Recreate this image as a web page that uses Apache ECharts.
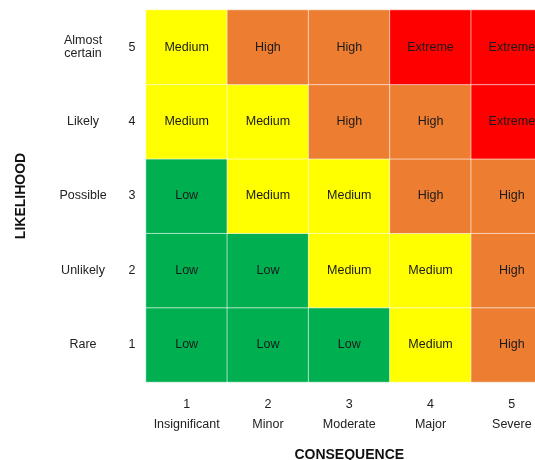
<!DOCTYPE html>
<html><head><meta charset="utf-8">
<script src="https://cdn.jsdelivr.net/npm/echarts@6/dist/echarts.min.js"></script>
<style>html,body{margin:0;padding:0;background:#fff}#c{width:535px;height:460px}</style>
</head><body><div id="c"></div>
<script>
const consequenceNums = ['1','2','3','4','5'];
const consequenceNames = ['Insignificant','Minor','Moderate','Major','Severe'];
const likelihoodNums = ['1','2','3','4','5'];
const likelihoodNames = ['Rare','Unlikely','Possible','Likely','Almost\ncertain'];
const levels = ['Low','Medium','High','Extreme'];
const levelColors = ['#00B050','#FFFF00','#ED7D31','#FF0000'];
// rows: likelihood 1..5, columns: consequence 1..5
const riskRow1 = ['Low','Low','Low','Medium','High'];
const riskRow2 = ['Low','Low','Medium','Medium','High'];
const riskRow3 = ['Low','Medium','Medium','High','High'];
const riskRow4 = ['Medium','Medium','High','High','Extreme'];
const riskRow5 = ['Medium','High','High','Extreme','Extreme'];
const riskRows = [riskRow1, riskRow2, riskRow3, riskRow4, riskRow5];

const data = [];
riskRows.forEach((row, y) => row.forEach((lvl, x) => data.push([x, y, levels.indexOf(lvl)])));

const FONT = '"Liberation Sans", Arial, sans-serif';
const chart = echarts.init(document.getElementById('c'));
chart.setOption({
  animation: false,
  grid: { left: 146, top: 10, width: 406.5, height: 372, outerBoundsMode: 'none', containLabel: false },
  xAxis: {
    type: 'category',
    data: consequenceNums,
    axisLine: { show: false }, axisTick: { show: false }, splitLine: { show: false },
    axisLabel: {
      interval: 0,
      formatter: (v, i) => v + '\n' + consequenceNames[i],
      fontFamily: FONT, fontSize: 12.5, color: '#222', lineHeight: 20, margin: 12.5
    },
    name: 'CONSEQUENCE', nameLocation: 'middle', nameGap: 66,
    nameTextStyle: { fontFamily: FONT, fontSize: 14, fontWeight: 'bold', color: '#111' }
  },
  yAxis: [{
    type: 'category',
    data: likelihoodNums,
    axisLine: { show: false }, axisTick: { show: false }, splitLine: { show: false },
    axisLabel: { interval: 0, fontFamily: FONT, fontSize: 12.5, color: '#222', align: 'center', margin: 14, padding: [3, 0, 0, 0] },
    name: 'LIKELIHOOD', nameLocation: 'middle', nameGap: 118, nameRotate: 90,
    nameTextStyle: { fontFamily: FONT, fontSize: 14, fontWeight: 'bold', color: '#111' }
  }, {
    type: 'category',
    position: 'left',
    data: likelihoodNames,
    axisLine: { show: false }, axisTick: { show: false }, splitLine: { show: false },
    axisLabel: { interval: 0, fontFamily: FONT, fontSize: 12.5, color: '#222', align: 'center', margin: 63, lineHeight: 13.5, padding: [3, 0, 0, 0] }
  }],
  visualMap: {
    type: 'piecewise', show: false, dimension: 2, seriesIndex: 0,
    pieces: levels.map((l, i) => ({ value: i, color: levelColors[i] }))
  },
  series: [{
    type: 'heatmap',
    data: data,
    label: { show: true, formatter: p => levels[p.value[2]], fontFamily: FONT, fontSize: 12.5, color: '#1a1a1a', padding: [3, 0, 0, 0] },
    itemStyle: { borderColor: 'rgba(255,255,255,0.6)', borderWidth: 1 },
    emphasis: { disabled: true }
  }]
});
</script></body></html>
